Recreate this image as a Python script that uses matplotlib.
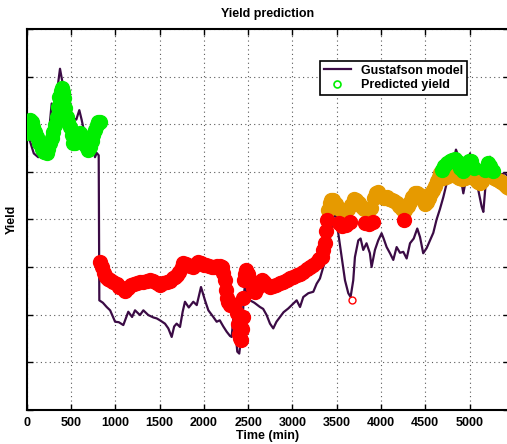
import matplotlib
matplotlib.use("Agg")
import matplotlib.pyplot as plt
from matplotlib.lines import Line2D
import numpy as np

plt.rcParams["font.family"] = ["Liberation Sans", "DejaVu Sans"]
plt.rcParams["font.weight"] = "bold"

# Gustafson model (time in min, yield in axis units 0..8)
model_t = [0, 40, 80, 130, 170, 226, 250, 282, 320, 350, 376, 413, 451, 489, 526, 560,
           594, 620, 658, 715, 752, 771, 790, 813, 820, 860, 903, 942, 998, 1040, 1091,
           1147, 1190, 1223, 1279, 1317, 1373, 1430, 1468, 1505, 1561, 1599, 1637, 1665,
           1693, 1731, 1761, 1787, 1830, 1881, 1920, 1968, 2013, 2051, 2107, 2145, 2180,
           2220, 2258, 2296, 2314, 2333, 2350, 2378, 2400, 2420, 2437, 2453, 2465, 2490,
           2521, 2570, 2634, 2670, 2709, 2747, 2784, 2820, 2860, 2900, 2954, 3010, 3048,
           3086, 3123, 3180, 3236, 3274, 3311, 3349, 3405, 3443, 3462, 3492, 3518, 3556,
           3594, 3631, 3657, 3687, 3706, 3744, 3770, 3800, 3837, 3875, 3894, 3932, 3969,
           4007, 4030, 4064, 4102, 4139, 4177, 4215, 4252, 4290, 4328, 4370, 4410, 4441,
           4477, 4516, 4553, 4591, 4628, 4666, 4704, 4742, 4779, 4817, 4847, 4870, 4911,
           4930, 4960, 4986, 5005, 5030, 5061, 5099, 5137, 5156, 5180, 5212, 5231, 5260,
           5306, 5350, 5400, 5440]
model_y = [5.81, 5.63, 5.39, 5.31, 5.49, 5.39, 5.80, 6.44, 6.26, 6.80, 7.17, 6.79, 6.44,
           6.30, 6.13, 6.10, 6.30, 6.10, 5.77, 5.60, 5.53, 5.31, 5.40, 5.35, 2.30, 2.25,
           2.16, 2.09, 1.85, 1.84, 1.78, 2.06, 1.95, 2.09, 1.99, 2.09, 1.99, 1.94, 1.92,
           1.88, 1.81, 1.71, 1.53, 1.75, 1.81, 1.74, 2.06, 2.27, 2.15, 2.27, 2.20, 2.58,
           2.30, 2.09, 1.95, 1.85, 1.88, 1.75, 1.64, 1.55, 1.53, 1.92, 1.75, 1.22, 1.18,
           1.50, 1.85, 2.44, 2.62, 2.40, 2.30, 2.25, 2.16, 2.12, 1.99, 1.81, 1.71, 1.85,
           1.95, 2.05, 2.13, 2.23, 2.30, 2.16, 2.37, 2.45, 2.48, 2.65, 2.76, 3.00, 3.36,
           3.84, 4.05, 4.09, 3.71, 3.21, 2.72, 2.45, 2.37, 2.72, 3.21, 3.56, 3.60, 3.36,
           3.50, 3.29, 3.00, 3.36, 3.56, 3.71, 3.60, 3.42, 3.29, 3.15, 3.42, 3.30, 3.32,
           3.18, 3.50, 3.60, 3.81, 3.63, 3.29, 3.40, 3.56, 3.72, 4.00, 4.22, 4.47, 4.76,
           4.97, 5.22, 5.47, 5.35, 4.76, 4.55, 4.85, 5.10, 5.39, 5.20, 4.97, 4.62, 4.27,
           4.16, 4.70, 5.25, 5.32, 5.15, 5.04, 4.95, 4.97, 4.90]

# Predicted yield samples (dense band)
pred_t = [0, 20, 37, 55, 75, 95, 113, 140, 169, 195, 226, 245, 263, 282, 301, 320, 339,
          353, 368, 382, 395, 408, 420, 435, 451, 470, 490, 508, 526, 545, 565, 585, 602,
          625, 650, 672, 696, 715, 735, 753, 771, 790, 808, 825,
          830, 850, 870, 890, 915, 940, 980, 1016, 1045, 1072, 1110, 1140, 1175, 1210,
          1242, 1280, 1317, 1355, 1392, 1430, 1468, 1505, 1543, 1580, 1615, 1650, 1674,
          1700, 1725, 1750, 1768, 1800, 1840, 1881, 1910, 1937, 1970, 2000, 2030, 2060,
          2089, 2120, 2150, 2180, 2202, 2220, 2239, 2250, 2258, 2277, 2296, 2320, 2345,
          2371, 2385, 2400, 2410, 2418, 2428, 2437, 2445, 2453, 2462, 2475, 2500, 2520,
          2540, 2560, 2578, 2600, 2625, 2653, 2680, 2710, 2747, 2780, 2820, 2860, 2897,
          2935, 2973, 3010, 3048, 3085, 3123, 3160, 3199, 3235, 3274, 3305, 3330, 3350,
          3368, 3382, 3394,
          3405, 3420, 3440, 3462, 3490, 3510, 3530, 3545, 3565, 3585, 3605, 3625, 3645,
          3660, 3690, 3720, 3750, 3782, 3810, 3825, 3845, 3865, 3885, 3905, 3920,
          3945, 3969, 3995, 4030, 4064, 4090, 4120, 4150, 4177, 4205, 4233, 4255, 4271,
          4300, 4328, 4355, 4384, 4410, 4441, 4470, 4497, 4520, 4545, 4570, 4591, 4610,
          4628, 4650, 4666,
          4685, 4700, 4715, 4730, 4745, 4760, 4775, 4790, 4805, 4820, 4835, 4850, 4865,
          4880, 4895, 4911, 4930, 4945, 4960, 4975, 4990, 5005, 5020, 5035, 5050, 5065,
          5080, 5100, 5120, 5140, 5160, 5175, 5190, 5205, 5220, 5235, 5250, 5265, 5280,
          5300, 5320, 5340, 5360, 5380, 5400, 5420, 5440]
pred_y = [5.81, 6.00, 6.09, 6.05, 5.95, 5.85, 5.74, 5.60, 5.49, 5.42, 5.39, 5.48, 5.60,
          5.72, 5.84, 5.98, 6.16, 6.36, 6.58, 6.70, 6.76, 6.68, 6.55, 6.35, 6.16, 6.05,
          5.95, 5.78, 5.60, 5.60, 5.65, 5.75, 5.81, 5.75, 5.65, 5.55, 5.46, 5.52, 5.65,
          5.78, 5.88, 5.98, 6.05, 6.05,
          3.10, 3.00, 2.88, 2.79, 2.75, 2.72, 2.68, 2.64, 2.58, 2.55, 2.50, 2.56, 2.62,
          2.65, 2.66, 2.68, 2.69, 2.70, 2.72, 2.70, 2.66, 2.62, 2.66, 2.68, 2.70, 2.76,
          2.79, 2.84, 2.90, 3.00, 3.08, 3.06, 3.02, 3.00, 3.06, 3.11, 3.08, 3.04, 3.04,
          3.02, 3.00, 3.00, 3.02, 3.02, 3.00, 2.88, 2.72, 2.52, 2.34, 2.26, 2.20, 2.22,
          2.18, 2.03, 1.80, 1.60, 1.50, 1.46, 1.70, 1.95, 2.35, 2.72, 2.85, 2.93, 2.86,
          2.72, 2.65, 2.55, 2.48, 2.55, 2.65, 2.72, 2.68, 2.62, 2.58, 2.60, 2.62, 2.66,
          2.69, 2.72, 2.76, 2.80, 2.83, 2.86, 2.90, 2.95, 3.00, 3.05, 3.11, 3.16, 3.21,
          3.35, 3.50, 3.75, 3.99,
          4.20, 4.35, 4.40, 4.42, 4.32, 4.25, 3.92, 4.20, 3.86, 4.16, 3.88, 4.22, 3.95,
          4.30, 4.44, 4.40, 4.35, 4.27, 4.22, 3.92, 4.20, 3.90, 4.25, 3.95, 4.45,
          4.56, 4.58, 4.50, 4.46, 4.47, 4.44, 4.41, 4.38, 4.34, 4.28, 4.23, 3.98, 4.20,
          4.28, 4.37, 4.48, 4.55, 4.55, 4.51, 4.42, 4.32, 4.36, 4.45, 4.55, 4.62, 4.70,
          4.80, 4.90, 4.97,
          5.05, 4.88, 5.12, 4.90, 5.18, 4.92, 5.22, 4.95, 5.26, 4.93, 5.28, 4.92, 5.20,
          4.88, 5.08, 4.85, 5.02, 4.88, 5.15, 4.90, 5.24, 4.92, 5.22, 4.90, 5.08, 4.85,
          4.82, 4.78, 4.76, 4.82, 4.90, 5.05, 4.92, 5.18, 4.95, 5.12, 4.92, 5.02, 4.88,
          4.86, 4.84, 4.82, 4.78, 4.76, 4.72, 4.68, 4.66]

# single isolated prediction sample
outlier_t = [3676]
outlier_y = [2.30]

x_ticks = list(range(0, 5001, 500))

LINE_COL = "#3b0b45"
GREEN = "#00ee00"
ORANGE = "#e69a00"
RED = "#ff0000"


def yield_colour(v):
    if v > 5:
        return GREEN
    if v < 4:
        return RED
    return ORANGE


fig = plt.figure(figsize=(5.07, 4.44), dpi=100)
ax = fig.add_axes([26.7 / 507, 34.3 / 444, 481.8 / 507, 380.4 / 444])

ax.plot(model_t, model_y, color=LINE_COL, lw=1.6, zorder=2)

pt = np.array(pred_t)
py = np.array(pred_y)
cols = np.array([yield_colour(v) for v in pred_y])
for col in [ORANGE, RED, GREEN]:
    m = cols == col
    ax.plot(pt[m], py[m], "o", ms=10, mfc=col, mec=col, mew=1.0,
            linestyle="none", zorder=3)
for t, v in zip(outlier_t, outlier_y):
    ax.plot(t, v, "o", ms=5, mfc="none", mec=yield_colour(v), mew=1.0, zorder=3)

ax.set_xlim(0, 5440)
ax.set_ylim(0, 8)
ax.set_xticks(x_ticks)
ax.set_xticklabels([str(v) for v in x_ticks], fontsize=9, fontweight="bold")
ax.set_yticks(range(0, 9))
ax.set_yticklabels([])
ax.tick_params(direction="in", length=4, width=1, top=True, right=True, pad=5)
ax.grid(True, color="0.35", linestyle=(0, (1, 3)), linewidth=0.8)
for s in ax.spines.values():
    s.set_linewidth(1.5)

ax.set_xlabel("Time (min)", fontsize=9, fontweight="bold", labelpad=1)
ax.set_ylabel("Yield", fontsize=9, fontweight="bold")
ax.yaxis.set_label_coords(-0.018, 0.5)
ax.set_title("Yield prediction", fontsize=9, fontweight="bold", pad=9)

handles = [Line2D([], [], color=LINE_COL, lw=1.6),
           Line2D([], [], marker="o", ms=5, mfc="none", mec=GREEN, mew=1.2, linestyle="none")]
leg = ax.legend(handles, ["Gustafson model", "Predicted yield"], loc="upper right",
                bbox_to_anchor=(0.914, 0.917), borderaxespad=0, fancybox=False,
                framealpha=1, edgecolor="black", prop={"weight": "bold", "size": 9},
                handlelength=2.2, borderpad=0.3, labelspacing=0.2, handletextpad=0.8)
leg.get_frame().set_linewidth(1.2)

fig.savefig("out.png", dpi=100)
